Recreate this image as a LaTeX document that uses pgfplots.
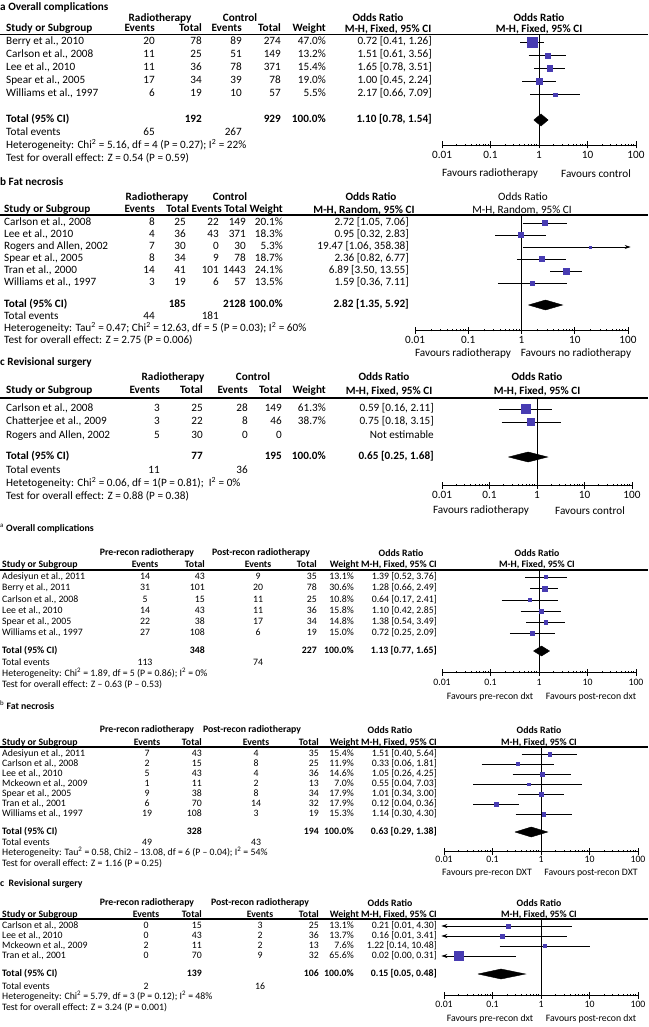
\documentclass[border=0pt]{standalone}
\usepackage{fontspec}
\setmainfont{Carlito}
\usepackage{pgfplots}
\pgfplotsset{compat=1.18}
\usetikzlibrary{arrows.meta}
\definecolor{sq}{RGB}{72,60,178}

\newcommand\fontA{\fontsize{11.2}{13}\selectfont}
\newcommand\fontB{\fontsize{9.8}{11}\selectfont}

% one study: y, OR, lower, upper, half size of square
\newcommand\study[5]{%
  \addplot[black, line width=0.8pt] coordinates {(#3,-#1) (#4,-#1)};
  \addplot[only marks, mark=square*, mark size=#5pt,
    mark options={draw=sq, fill=sq}] coordinates {(#2,-#1)};}
\newcommand\oneline[2]{\addplot[black, line width=0.8pt] coordinates {(1,-#1) (1,-#2)};}

% one table row: y, name, events, total, events, total, weight, OR
\newcommand\trow[8]{%
  \node[anchor=mid west] at (\xN,-#1) {#2};
  \node[ev] at (\xa,-#1) {#3};
  \node[anchor=mid east] at (\xb,-#1) {#4};
  \node[ev] at (\xc,-#1) {#5};
  \node[anchor=mid east] at (\xd,-#1) {#6};
  \node[anchor=mid east] at (\xe,-#1) {#7};
  \node[anchor=mid east] at (\xf,-#1) {#8};}

\begin{document}
\begin{tikzpicture}
\path[use as bounding box] (0pt,0pt) rectangle (648pt,-1027pt);

%% ---------------- a  Overall complications (top)
\begin{scope}[x=1pt, y=1pt, every node/.style={inner sep=0pt}, font=\fontA, ev/.style={anchor=mid east}]
\def\xN{6}\def\xa{155}\def\xb{202}\def\xc{242}\def\xd{281}\def\xe{326}\def\xf{432}
\node[anchor=mid west] at (0,-8) {\textbf{a Overall complications}};
\node at (160,-18) {\textbf{Radiotherapy}};
\node at (240,-18) {\textbf{Control}};
\node at (378,-18) {\textbf{Odds Ratio}};
\node at (539,-18) {\textbf{Odds Ratio}};
\trow{29.5}{\textbf{Study or Subgroup}}{\textbf{Events}}{\textbf{Total}}{\textbf{Events}}{\textbf{Total}}{\textbf{Weight}}{}
\node at (388,-29.5) {\textbf{M-H, Fixed, 95\% CI}};
\node at (539,-29.5) {\textbf{M-H, Fixed, 95\% CI}};
\draw[line width=1.2pt] (0,-34.5) -- (648,-34.5);
\trow{42.5}{Berry et al., 2010}{20}{78}{89}{274}{47.0\%}{0.72 [0.41, 1.26]}
\trow{55.5}{Carlson et al., 2008}{11}{25}{51}{149}{13.2\%}{1.51 [0.61, 3.56]}
\trow{68.5}{Lee et al., 2010}{11}{36}{78}{371}{15.4\%}{1.65 [0.78, 3.51]}
\trow{81.5}{Spear et al., 2005}{17}{34}{39}{78}{19.0\%}{1.00 [0.45, 2.24]}
\trow{94.5}{Williams et al., 1997}{6}{19}{10}{57}{5.5\%}{2.17 [0.66, 7.09]}
\trow{120}{\textbf{Total (95\% CI)}}{}{\textbf{192}}{}{\textbf{929}}{\textbf{100.0\%}}{\textbf{1.10 [0.78, 1.54]}}
\trow{133}{Total events}{65}{}{267}{}{}{}
\node[anchor=mid west] at (6,-146) {Heterogeneity: Chi\textsuperscript{2} = 5.16, df = 4 (P = 0.27); I\textsuperscript{2} = 22\%};
\node[anchor=mid west] at (6,-159) {Test for overall effect: Z = 0.54 (P = 0.59)};
\node at (490,-174) {Favours radiotherapy};
\node at (596,-174) {Favours control};
\end{scope}
\begin{axis}[scale only axis, anchor=south west, at={(442pt,-145pt)}, width=194pt, height=110.5pt,
  xmode=log, xmin=0.01, xmax=100, ymin=-145, ymax=-34.5, clip=false,
  axis x line*=bottom, axis y line=none,
  xtick={0.01,0.1,1,10,100}, xticklabels={0.01,0.1,1,10,100},
  minor xtick={}, tick align=center, major tick length=7pt,
  every tick/.style={black, line width=0.8pt}, x axis line style={line width=0.8pt},
  xticklabel style={font=\fontA, inner sep=0pt, yshift=-3pt}]
\oneline{34.5}{145}
\study{42.5}{0.72}{0.41}{1.26}{5}
\study{55.5}{1.51}{0.61}{3.56}{2.6}
\study{68.5}{1.65}{0.78}{3.51}{2.85}
\study{81.5}{1.00}{0.45}{2.24}{3.2}
\study{94.5}{2.17}{0.66}{7.09}{1.7}
\addplot[fill=black, draw=black] coordinates {(0.78,-120) (1.10,-114) (1.54,-120) (1.10,-126) (0.78,-120)};
\end{axis}

%% ---------------- b  Fat necrosis (top)
\begin{scope}[x=1pt, y=1pt, every node/.style={inner sep=0pt}, font=\fontA, ev/.style={anchor=mid east}]
\def\xN{4}\def\xa{155}\def\xb{186}\def\xc{219}\def\xd{246}\def\xe{283}\def\xf{409}
\node[anchor=mid west] at (0,-183) {\textbf{b Fat necrosis}};
\node at (157,-197) {\textbf{Radiotherapy}};
\node at (230,-197) {\textbf{Control}};
\node at (371,-197) {\textbf{Odds Ratio}};
\node at (523,-197) {Odds Ratio};
\node[anchor=mid west] at (4,-210) {\textbf{Study or Subgroup}};
\node[anchor=mid east] at (155,-210) {\textbf{Events}};
\node[anchor=mid east] at (283,-210) {\textbf{Total Events Total Weight}};
\node at (364,-210) {\textbf{M-H, Random, 95\% CI}};
\node at (522,-210) {M-H, Random, 95\% CI};
\draw[line width=1.2pt] (0,-215) -- (648,-215);
\trow{223}{Carlson et al., 2008}{8}{25}{22}{149}{20.1\%}{2.72 [1.05, 7.06]}
\trow{235}{Lee et al., 2010}{4}{36}{43}{371}{18.3\%}{0.95 [0.32, 2.83]}
\trow{247}{Rogers and Allen, 2002}{7}{30}{0}{30}{5.3\%}{19.47 [1.06, 358.38]}
\trow{259}{Spear et al., 2005}{8}{34}{9}{78}{18.7\%}{2.36 [0.82, 6.77]}
\trow{271}{Tran et al., 2000}{14}{41}{101}{1443}{24.1\%}{6.89 [3.50, 13.55]}
\trow{283}{Williams et al., 1997}{3}{19}{6}{57}{13.5\%}{1.59 [0.36, 7.11]}
\trow{305}{\textbf{Total (95\% CI)}}{}{\textbf{185}}{}{\textbf{2128}}{\textbf{100.0\%}}{\textbf{2.82 [1.35, 5.92]}}
\trow{317}{Total events}{44}{}{181}{}{}{}
\node[anchor=mid west] at (4,-329) {Heterogeneity: Tau\textsuperscript{2} = 0.47; Chi\textsuperscript{2} = 12.63, df = 5 (P = 0.03); I\textsuperscript{2} = 60\%};
\node[anchor=mid west] at (4,-341) {Test for overall effect: Z = 2.75 (P = 0.006)};
\node at (463,-354) {Favours radiotherapy};
\node at (576,-354) {Favours no radiotherapy};
\end{scope}
\begin{axis}[scale only axis, anchor=south west, at={(415pt,-330pt)}, width=213pt, height=115pt,
  xmode=log, xmin=0.01, xmax=100, ymin=-330, ymax=-215, clip=false,
  axis x line*=bottom, axis y line=none,
  xtick={0.01,0.1,1,10,100}, xticklabels={0.01,0.1,1,10,100},
  minor xtick={}, tick align=center, major tick length=7pt,
  every tick/.style={black, line width=0.8pt}, x axis line style={line width=0.8pt},
  xticklabel style={font=\fontA, inner sep=0pt, yshift=-3pt}]
\oneline{215}{330}
\study{223}{2.72}{1.05}{7.06}{2.5}
\study{235}{0.95}{0.32}{2.83}{2.4}
\addplot[black, line width=0.8pt, -{Stealth[length=6pt,width=4pt]}] coordinates {(1.06,-247) (112,-247)};
\addplot[only marks, mark=square*, mark size=1.2pt, mark options={draw=sq, fill=sq}] coordinates {(19.47,-247)};
\study{259}{2.36}{0.82}{6.77}{2.4}
\study{271}{6.89}{3.50}{13.55}{2.8}
\study{283}{1.59}{0.36}{7.11}{2.1}
\addplot[fill=black, draw=black] coordinates {(1.35,-305) (2.82,-300) (5.92,-305) (2.82,-310) (1.35,-305)};
\end{axis}

%% ---------------- c  Revisional surgery (top)
\begin{scope}[x=1pt, y=1pt, every node/.style={inner sep=0pt}, font=\fontA, ev/.style={anchor=mid east}]
\def\xN{6}\def\xa{160}\def\xb{203}\def\xc{248}\def\xd{282}\def\xe{326}\def\xf{434}
\node[anchor=mid west] at (0,-363) {\textbf{c Revisional surgery}};
\node at (173,-377) {\textbf{Radiotherapy}};
\node at (253,-377) {\textbf{Control}};
\node at (384,-377) {\textbf{Odds Ratio}};
\node at (537,-377) {\textbf{Odds Ratio}};
\trow{391}{\textbf{Study or Subgroup}}{\textbf{Events}}{\textbf{Total}}{\textbf{Events}}{\textbf{Total}}{\textbf{Weight}}{}
\node at (389,-391) {\textbf{M-H, Fixed, 95\% CI}};
\node at (537,-391) {\textbf{M-H, Fixed, 95\% CI}};
\draw[line width=1.2pt] (0,-398) -- (648,-398);
\trow{409}{Carlson et al., 2008}{3}{25}{28}{149}{61.3\%}{0.59 [0.16, 2.11]}
\trow{422}{Chatterjee et al., 2009}{3}{22}{8}{46}{38.7\%}{0.75 [0.18, 3.15]}
\trow{436}{Rogers and Allen, 2002}{5}{30}{0}{0}{}{Not estimable}
\trow{457}{\textbf{Total (95\% CI)}}{}{\textbf{77}}{}{\textbf{195}}{\textbf{100.0\%}}{\textbf{0.65 [0.25, 1.68]}}
\trow{471}{Total events}{11}{}{36}{}{}{}
\node[anchor=mid west] at (6,-484) {Hetetogeneity: Chi\textsuperscript{2} = 0.06, df = 1(P = 0.81);\ \ I\textsuperscript{2} = 0\%};
\node[anchor=mid west] at (6,-497) {Test for overall effect: Z = 0.88 (P = 0.38)};
\node at (481,-511) {Favours radiotherapy};
\node at (590,-511) {Favours control};
\end{scope}
\begin{axis}[scale only axis, anchor=south west, at={(442pt,-485pt)}, width=190pt, height=87pt,
  xmode=log, xmin=0.01, xmax=100, ymin=-485, ymax=-398, clip=false,
  axis x line*=bottom, axis y line=none,
  xtick={0.01,0.1,1,10,100}, xticklabels={0.01,0.1,1,10,100},
  minor xtick={}, tick align=center, major tick length=7pt,
  every tick/.style={black, line width=0.8pt}, x axis line style={line width=0.8pt},
  xticklabel style={font=\fontA, inner sep=0pt, yshift=-3pt}]
\oneline{398}{485}
\study{409}{0.59}{0.16}{2.11}{4.5}
\study{422}{0.75}{0.18}{3.15}{3.6}
\addplot[fill=black, draw=black] coordinates {(0.25,-457) (0.65,-452) (1.68,-457) (0.65,-462) (0.25,-457)};
\end{axis}

%% ---------------- a  Overall complications (pre vs post recon)
\begin{scope}[x=1pt, y=1pt, every node/.style={inner sep=0pt}, font=\fontB, ev/.style={anchor=mid}]
\def\xN{2}\def\xa{145}\def\xb{205}\def\xc{258}\def\xd{317}\def\xe{354}\def\xf{437}
\node[anchor=mid west] at (0,-529) {\textsuperscript{a}\ \textbf{Overall complications}};
\node at (147,-553) {\textbf{Pre-recon radiotherapy}};
\node at (261,-553) {\textbf{Post-recon radiotherapy}};
\node at (401,-553) {\textbf{Odds Ratio}};
\node at (537,-553) {\textbf{Odds Ratio}};
\trow{565}{\textbf{Study or Subgroup}}{\textbf{Events}}{\textbf{Total}}{\textbf{Events}}{\textbf{Total}}{}{}
\node[anchor=mid east] at (437,-565) {\textbf{Weight M-H, Fixed, 95\% CI}};
\node at (537,-565) {\textbf{M-H, Fixed, 95\% CI}};
\draw[line width=1.4pt] (0,-570) -- (648,-570);
\trow{577}{Adesiyun et al., 2011}{14}{43}{9}{35}{13.1\%}{1.39 [0.52, 3.76]}
\trow{588.5}{Berry et al., 2011}{31}{101}{20}{78}{30.6\%}{1.28 [0.66, 2.49]}
\trow{600}{Carlson et al., 2008}{5}{15}{11}{25}{10.8\%}{0.64 [0.17, 2.41]}
\trow{611}{Lee et al., 2010}{14}{43}{11}{36}{15.8\%}{1.10 [0.42, 2.85]}
\trow{622}{Spear et al., 2005}{22}{38}{17}{34}{14.8\%}{1.38 [0.54, 3.49]}
\trow{633}{Williams et al., 1997}{27}{108}{6}{19}{15.0\%}{0.72 [0.25, 2.09]}
\trow{651}{\textbf{Total (95\% CI)}}{}{\textbf{348}}{}{\textbf{227}}{\textbf{100.0\%}}{\textbf{1.13 [0.77, 1.65]}}
\trow{663}{Total events}{113}{}{74}{}{}{}
\node[anchor=mid west] at (2,-674) {Heterogeneity: Chi\textsuperscript{2} = 1.89, df = 5 (P = 0.86); I\textsuperscript{2} = 0\%};
\node[anchor=mid west] at (2,-685) {Test for overall effect: Z – 0.63 (P – 0.53)};
\node at (490,-697) {Favours pre-recon dxt};
\node at (591,-697) {Favours post-recon dxt};
\end{scope}
\begin{axis}[scale only axis, anchor=south west, at={(442pt,-672pt)}, width=194pt, height=102pt,
  xmode=log, xmin=0.01, xmax=100, ymin=-672, ymax=-570, clip=false,
  axis x line*=bottom, axis y line=none,
  xtick={0.01,0.1,1,10,100}, xticklabels={0.01,0.1,1,10,100},
  minor xtick={}, tick align=center, major tick length=7pt,
  every tick/.style={black, line width=0.8pt}, x axis line style={line width=0.8pt},
  xticklabel style={font=\fontB, inner sep=0pt, yshift=-3pt}]
\oneline{570}{672}
\study{577}{1.39}{0.52}{3.76}{1.6}
\study{588.5}{1.28}{0.66}{2.49}{2.5}
\study{600}{0.64}{0.17}{2.41}{1.5}
\study{611}{1.10}{0.42}{2.85}{1.8}
\study{622}{1.38}{0.54}{3.49}{1.7}
\study{633}{0.72}{0.25}{2.09}{1.7}
\addplot[fill=black, draw=black] coordinates {(0.77,-651) (1.13,-646) (1.65,-651) (1.13,-656) (0.77,-651)};
\end{axis}

%% ---------------- b  Fat necrosis (pre vs post recon)
\begin{scope}[x=1pt, y=1pt, every node/.style={inner sep=0pt}, font=\fontB, ev/.style={anchor=mid}]
\def\xN{2}\def\xa{147}\def\xb{202}\def\xc{256}\def\xd{319}\def\xe{354}\def\xf{437}
\node[anchor=mid west] at (0,-707) {\textsuperscript{b}\ \textbf{Fat necrosis}};
\node at (147,-730) {\textbf{Pre-recon radiotherapy}};
\node at (252,-730) {\textbf{Post-recon radiotherapy}};
\node at (390,-730) {\textbf{Odds Ratio}};
\node at (539,-730) {\textbf{Odds Ratio}};
\trow{743}{\textbf{Study or Subgroup}}{\textbf{Events}}{\textbf{Total}}{\textbf{Events}}{\textbf{Total}}{}{}
\node[anchor=mid east] at (437,-743) {\textbf{Weight M-H, Fixed, 95\% CI}};
\node at (539,-743) {\textbf{M-H, Fixed, 95\% CI}};
\draw[line width=1.4pt] (0,-747) -- (648,-747);
\trow{754}{Adesiyun et al., 2011}{7}{43}{4}{35}{15.4\%}{1.51 [0.40, 5.64]}
\trow{764}{Carlson et al., 2008}{2}{15}{8}{25}{11.9\%}{0.33 [0.06, 1.81]}
\trow{774}{Lee et al., 2010}{5}{43}{4}{36}{14.6\%}{1.05 [0.26, 4.25]}
\trow{784}{Mckeown et al., 2009}{1}{11}{2}{13}{7.0\%}{0.55 [0.04, 7.03]}
\trow{794}{Spear et al., 2005}{9}{38}{8}{34}{17.9\%}{1.01 [0.34, 3.00]}
\trow{804}{Tran et al., 2001}{6}{70}{14}{32}{17.9\%}{0.12 [0.04, 0.36]}
\trow{814}{Williams et al., 1997}{19}{108}{3}{19}{15.3\%}{1.14 [0.30, 4.30]}
\trow{832}{\textbf{Total (95\% CI)}}{}{\textbf{328}}{}{\textbf{194}}{\textbf{100.0\%}}{\textbf{0.63 [0.29, 1.38]}}
\trow{843}{Total events}{49}{}{43}{}{}{}
\node[anchor=mid west] at (2,-853) {Heterogeneity: Tau\textsuperscript{2} = 0.58, Chi2 – 13.08, df = 6 (P – 0.04); I\textsuperscript{2} = 54\%};
\node[anchor=mid west] at (2,-864) {Test for overall effect: Z = 1.16 (P = 0.25)};
\node at (487,-873) {Favours pre-recon DXT};
\node at (591,-873) {Favours post-recon DXT};
\end{scope}
\begin{axis}[scale only axis, anchor=south west, at={(444pt,-851pt)}, width=194pt, height=104pt,
  xmode=log, xmin=0.01, xmax=100, ymin=-851, ymax=-747, clip=false,
  axis x line*=bottom, axis y line=none,
  xtick={0.01,0.1,1,10,100}, xticklabels={0.01,0.1,1,10,100},
  minor xtick={}, tick align=center, major tick length=7pt,
  every tick/.style={black, line width=0.8pt}, x axis line style={line width=0.8pt},
  xticklabel style={font=\fontB, inner sep=0pt, yshift=-1pt}]
\oneline{747}{851}
\study{754}{1.51}{0.40}{5.64}{1.9}
\study{764}{0.33}{0.06}{1.81}{1.6}
\study{774}{1.05}{0.26}{4.25}{1.8}
\study{784}{0.55}{0.04}{7.03}{1.3}
\study{794}{1.01}{0.34}{3.00}{2.0}
\study{804}{0.12}{0.04}{0.36}{2.0}
\study{814}{1.14}{0.30}{4.30}{1.9}
\addplot[fill=black, draw=black] coordinates {(0.29,-832) (0.63,-827) (1.38,-832) (0.63,-837) (0.29,-832)};
\end{axis}

%% ---------------- c  Revisional surgery (pre vs post recon)
\begin{scope}[x=1pt, y=1pt, every node/.style={inner sep=0pt}, font=\fontB, ev/.style={anchor=mid}]
\def\xN{2}\def\xa{146}\def\xb{202}\def\xc{260}\def\xd{319}\def\xe{354}\def\xf{437}
\node[anchor=mid west] at (0,-884) {\textbf{c\ \ Revisional surgery}};
\node at (147,-903) {\textbf{Pre-recon radiotherapy}};
\node at (260,-903) {\textbf{Post-recon radiotherapy}};
\node at (390,-903) {\textbf{Odds Ratio}};
\node at (539,-903) {\textbf{Odds Ratio}};
\trow{915}{\textbf{Study or Subgroup}}{\textbf{Events}}{\textbf{Total}}{\textbf{Events}}{\textbf{Total}}{}{}
\node[anchor=mid east] at (437,-915) {\textbf{Weight M-H, Fixed, 95\% CI}};
\node at (539,-915) {\textbf{M-H, Fixed, 95\% CI}};
\draw[line width=1.4pt] (0,-919) -- (648,-919);
\trow{926}{Carlson et al., 2008}{0}{15}{3}{25}{13.1\%}{0.21 [0.01, 4.30]}
\trow{936}{Lee et al., 2010}{0}{43}{2}{36}{13.7\%}{0.16 [0.01, 3.41]}
\trow{946}{Mckeown et al., 2009}{2}{11}{2}{13}{7.6\%}{1.22 [0.14, 10.48]}
\trow{956}{Tran et al., 2001}{0}{70}{9}{32}{65.6\%}{0.02 [0.00, 0.31]}
\trow{974}{\textbf{Total (95\% CI)}}{}{\textbf{139}}{}{\textbf{106}}{\textbf{100.0\%}}{\textbf{0.15 [0.05, 0.48]}}
\trow{987}{Total events}{2}{}{16}{}{}{}
\node[anchor=mid west] at (2,-997) {Heterogeneity: Chi\textsuperscript{2} = 5.79, df = 3 (P = 0.12); I\textsuperscript{2} = 48\%};
\node[anchor=mid west] at (2,-1008) {Test for overall effect: Z = 3.24 (P = 0.001)};
\node at (490,-1019) {Favours pre-recon dxt};
\node at (591,-1019) {Favours post-recon dxt};
\end{scope}
\begin{axis}[scale only axis, anchor=south west, at={(444pt,-995pt)}, width=194pt, height=76pt,
  xmode=log, xmin=0.01, xmax=100, ymin=-995, ymax=-919, clip=false,
  axis x line*=bottom, axis y line=none,
  xtick={0.01,0.1,1,10,100}, xticklabels={0.01,0.1,1,10,100},
  minor xtick={}, tick align=center, major tick length=7pt,
  every tick/.style={black, line width=0.8pt}, x axis line style={line width=0.8pt},
  xticklabel style={font=\fontB, inner sep=0pt, yshift=-2pt}]
\oneline{919}{995}
\addplot[black, line width=0.8pt, {Stealth[length=6pt,width=4pt]}-] coordinates {(0.0088,-926) (4.30,-926)};
\addplot[only marks, mark=square*, mark size=2pt, mark options={draw=sq, fill=sq}] coordinates {(0.21,-926)};
\addplot[black, line width=0.8pt, {Stealth[length=6pt,width=4pt]}-] coordinates {(0.0088,-936) (3.41,-936)};
\addplot[only marks, mark=square*, mark size=2pt, mark options={draw=sq, fill=sq}] coordinates {(0.16,-936)};
\study{946}{1.22}{0.14}{10.48}{1.5}
\addplot[black, line width=0.8pt, {Stealth[length=6pt,width=4pt]}-] coordinates {(0.0088,-956) (0.31,-956)};
\addplot[only marks, mark=square*, mark size=4.5pt, mark options={draw=sq, fill=sq}] coordinates {(0.02,-956)};
\addplot[fill=black, draw=black] coordinates {(0.05,-974) (0.15,-969) (0.48,-974) (0.15,-979) (0.05,-974)};
\end{axis}
\end{tikzpicture}
\end{document}
